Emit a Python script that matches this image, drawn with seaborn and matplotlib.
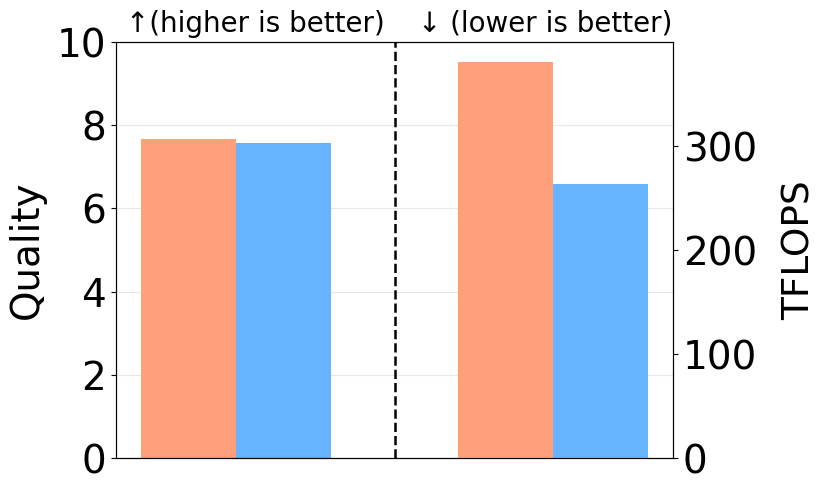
import matplotlib
matplotlib.use("Agg")
import matplotlib.pyplot as plt
import seaborn as sns
import pandas as pd

groups = ["Quality", "TFLOPS"]
methods = ["Baseline", "Ours"]
quality_values = [7.66, 7.58]
tflops_values = [381, 263]
titles = ["\u2191(higher is better)", "\u2193 (lower is better)"]
colors = ["#FFA07A", "#66B3FF"]

df_q = pd.DataFrame({"group": ["Quality"] * 2, "method": methods, "value": quality_values})
df_t = pd.DataFrame({"group": ["TFLOPS"] * 2, "method": methods, "value": tflops_values})

fig = plt.figure(figsize=(8.31, 4.92), dpi=100)
ax1 = fig.add_axes([116 / 831, 1 - 458 / 492, (673 - 116) / 831, (458 - 42) / 492])
ax2 = ax1.twinx()

sns.barplot(data=df_q, x="group", y="value", hue="method", order=groups,
            hue_order=methods, palette=colors, width=0.6, ax=ax1, legend=False,
            saturation=1, zorder=2)
sns.barplot(data=df_t, x="group", y="value", hue="method", order=groups,
            hue_order=methods, palette=colors, width=0.6, ax=ax2, legend=False,
            saturation=1, zorder=2)

ax1.set_xlim(-0.38, 1.38)
ax2.set_xlim(-0.38, 1.38)
ax1.set_ylim(0, 10)
ax2.set_ylim(0, 400)
ax1.set_yticks([0, 2, 4, 6, 8, 10])
ax2.set_yticks([0, 100, 200, 300])
ax1.set_xticks([])
ax2.set_xticks([])
ax1.set_xlabel("")
ax2.set_xlabel("")
ax1.set_ylabel("Quality", fontsize=28, labelpad=8)
ax2.set_ylabel("TFLOPS", fontsize=27, labelpad=18)
ax1.tick_params(axis="y", labelsize=28)
ax2.tick_params(axis="y", labelsize=28)

ax1.yaxis.grid(True, color="#e8e8e8", linewidth=0.8)
ax1.set_axisbelow(True)
ax1.axvline(0.5, color="black", linestyle="--", linewidth=1.8, zorder=5)

for s in ax1.spines.values():
    s.set_color("black")
for s in ax2.spines.values():
    s.set_color("black")

ax1.text(0.251, 1.01, titles[0], transform=ax1.transAxes, ha="center", va="bottom", fontsize=20)
ax1.text(0.770, 1.01, titles[1], transform=ax1.transAxes, ha="center", va="bottom", fontsize=20)

fig.savefig("out.png", dpi=100)
